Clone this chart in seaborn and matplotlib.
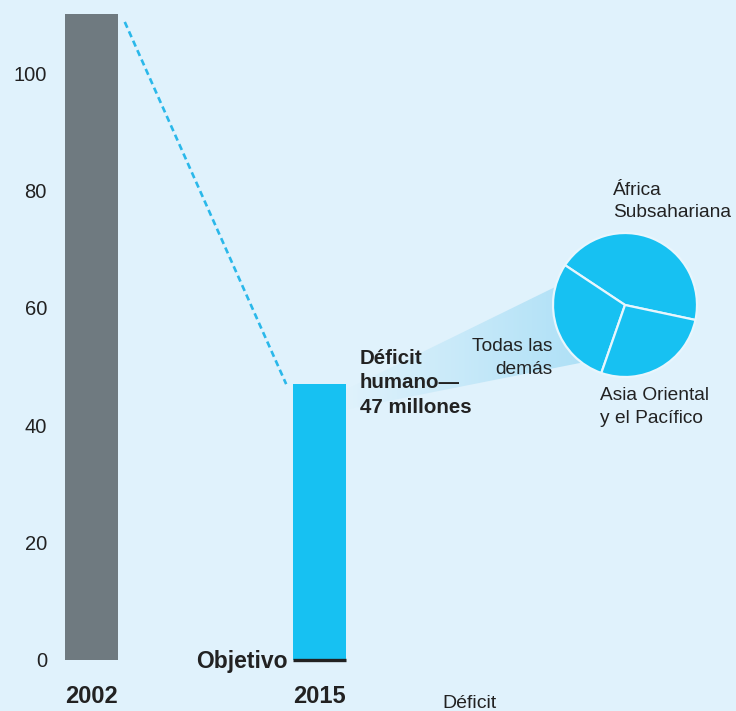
import matplotlib
matplotlib.use("Agg")
import matplotlib.pyplot as plt
import seaborn as sb
import pandas as pd
import numpy as np
from matplotlib.colors import LinearSegmentedColormap
from matplotlib.patches import Polygon

# data
years = ["2002", "2015"]
millions = [110, 47]
goal = [0]
regions = ["África\nSubsahariana", "Todas las\ndemás", "Asia Oriental\ny el Pacífico"]
shares = [44, 29, 27]
yticks = [0, 20, 40, 60, 80, 100]

bg = "#e0f2fc"
grey = "#6f7a80"
cyan = "#17c1f2"
ink = "#222222"

sb.set_theme(style="white")
plt.rcParams["font.family"] = ["Liberation Sans", "DejaVu Sans"]

fig = plt.figure(figsize=(7.36, 7.11), dpi=100, facecolor=bg)

# overlay in pixel coords for the funnel towards the pie
ov = fig.add_axes([0, 0, 1, 1], zorder=0)
ov.set_xlim(0, 736)
ov.set_ylim(711, 0)
ov.axis("off")
cone = Polygon([(343, 391), (600, 265), (600, 359), (343, 410)], closed=True,
               facecolor="none", edgecolor="none")
ov.add_patch(cone)
cmap = LinearSegmentedColormap.from_list("cone", [bg, "#abdff6"])
grad = np.linspace(0, 1, 256).reshape(1, -1)
im = ov.imshow(grad, cmap=cmap, extent=(343, 600, 420, 260), aspect="auto")
im.set_clip_path(cone)

# main bar axes
ax = fig.add_axes([55 / 736, 31 / 711, 1 - 55 / 736, 1 - 31 / 711], zorder=1)
ax.patch.set_alpha(0)
df = pd.DataFrame({"year": years, "value": millions})
w = 0.232
sb.barplot(data=df, x="year", y="value", hue="year", palette=[grey, cyan],
           width=w, saturation=1, legend=False, linewidth=0, ax=ax)
ax.set_xlim(-0.160, 2.827)
ax.set_ylim(-3.41, 112.44)
ax.set_xlabel("")
ax.set_ylabel("")
ax.set_yticks(yticks)
ax.tick_params(axis="y", length=0, pad=5.8, labelsize=14.5, labelcolor=ink)
ax.tick_params(axis="x", length=0, pad=3.5, labelcolor=ink)
for lab in ax.get_xticklabels():
    lab.set_fontweight("bold")
    lab.set_fontsize(17)
for s in ax.spines.values():
    s.set_visible(False)
ax.grid(False)

# dashed connector
ax.plot([0 + w / 2 + 0.03, 1 - w / 2 - 0.03], [millions[0] - 1.3, millions[1]],
        color="#2ab8ea", lw=1.9, dashes=(2.4, 1.5), solid_capstyle="butt")

# goal line
ax.hlines(goal[0], 1 - w / 2, 1 + w / 2, color=ink, lw=2.4, zorder=5)
ax.text(1 - w / 2 - 0.025, goal[0] - 0.3, "Objetivo", ha="right", va="center",
        fontweight="bold", fontsize=16.5, color=ink)

ax.text(1 + w / 2 + 0.06, millions[1] + 6.0, "Déficit\nhumano—\n47 millones",
        ha="left", va="top", fontweight="bold", fontsize=14.8,
        linespacing=1.36, color=ink)

# bottom cut-off label
fig.text(470 / 736, 1 - 695 / 711, "Déficit", ha="center", va="top",
         fontsize=14, color=ink)

# pie
pax = fig.add_axes([(625 - 72) / 736, (711 - 305 - 72) / 711, 144 / 736, 144 / 711], zorder=3)
pax.pie(shares, colors=[cyan] * 3, startangle=-12, counterclock=True,
        wedgeprops=dict(edgecolor="#e8f6fd", linewidth=1.6))
pax.set_xlim(-1, 1)
pax.set_ylim(-1, 1)
pax.set_aspect("equal")
pax.axis("off")
pax.text(-0.17, 1.71, regions[0], ha="left", va="top",
         fontsize=13.8, linespacing=1.42, color=ink)
pax.text(-1.0, -0.46, regions[1], ha="right", va="top",
         fontsize=13.8, linespacing=1.42, color=ink, multialignment="right")
pax.text(-0.35, -1.14, regions[2], ha="left", va="top",
         fontsize=13.8, linespacing=1.42, color=ink)

fig.savefig("out.png", dpi=100, facecolor=bg)
